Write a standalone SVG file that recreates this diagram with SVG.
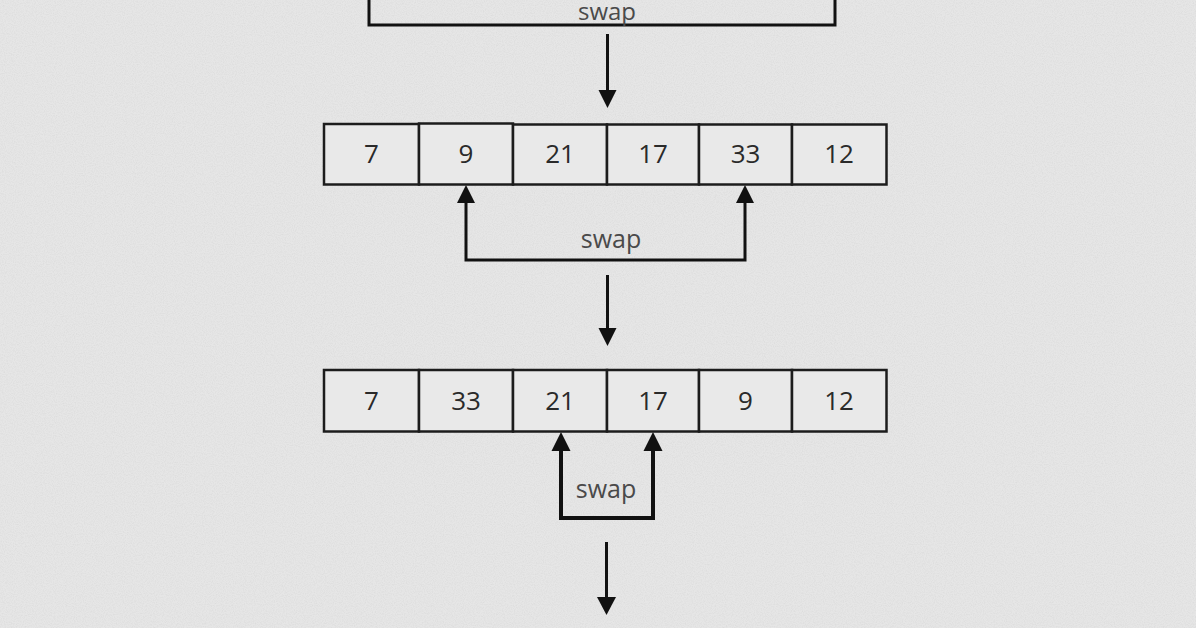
<svg xmlns="http://www.w3.org/2000/svg" width="1196" height="628" viewBox="0 0 1196 628">
  <defs>
    <filter id="grain" x="0" y="0" width="100%" height="100%">
      <feTurbulence type="fractalNoise" baseFrequency="0.9" numOctaves="2" seed="3" result="n"/>
      <feColorMatrix in="n" type="matrix" values="0 0 0 0 0.5  0 0 0 0 0.5  0 0 0 0 0.5  0 0 0 -1.2 0.75" result="g"/>
      <feComposite in="g" in2="SourceGraphic" operator="in"/>
    </filter>
    <style>
      .cell rect { fill: #e9e9e9; stroke: #1c1c1c; stroke-width: 2.5; }
      .cell text { font-family: "Open Sans", "Noto Sans", "Liberation Sans", sans-serif; font-size: 26px; fill: #2a2a2a; text-anchor: middle; }
      .lbl { font-family: "Open Sans", "Noto Sans", "Liberation Sans", sans-serif; font-size: 25px; fill: #4a4a4a; text-anchor: middle; }
      .wire { fill: none; stroke: #111; stroke-width: 3; stroke-linejoin: miter; }
      .head { fill: #111; }
    </style>
  </defs>
  <rect width="1196" height="628" fill="#e6e6e6"/>
  <rect width="1196" height="628" fill="#ffffff" filter="url(#grain)" opacity="0.35"/>

  <!-- connectors -->
  <g id="connectors">
    <!-- top bracket (cut off) -->
    <path class="wire" d="M369,0 L369,25 L835,25 L835,0"/>
    <text class="lbl" x="607" y="20" style="font-size:24px">swap</text>
    <!-- down arrow 1 -->
    <line class="wire" x1="607.5" y1="34" x2="607.5" y2="92"/>
    <path class="head" d="M598.5,90 L616.5,90 L607.5,108 Z"/>

    <!-- swap bracket row 1 -->
    <path class="wire" d="M466,200 L466,260 L745,260 L745,200"/>
    <path class="head" d="M457,203 L475,203 L466,185 Z"/>
    <path class="head" d="M736,203 L754,203 L745,185 Z"/>
    <text class="lbl" x="611" y="248">swap</text>

    <!-- down arrow 2 -->
    <line class="wire" x1="607.5" y1="275" x2="607.5" y2="330"/>
    <path class="head" d="M598.5,328 L616.5,328 L607.5,346 Z"/>

    <!-- swap bracket row 2 -->
    <path class="wire" d="M561,448 L561,518 L653,518 L653,448" style="stroke-width:4"/>
    <path class="head" d="M551.5,451 L570.5,451 L561,432 Z"/>
    <path class="head" d="M643.5,451 L662.5,451 L653,432 Z"/>
    <text class="lbl" x="606" y="498">swap</text>

    <!-- down arrow 3 -->
    <line class="wire" x1="606.5" y1="542" x2="606.5" y2="600"/>
    <path class="head" d="M597,597 L616,597 L606.5,615 Z"/>
  </g>

  <!-- row 1 -->
  <g id="row1">
    <g id="r1c1" class="cell"><rect x="324" y="124" width="95" height="60.5"/><text x="371.5" y="163">7</text></g>
    <g id="r1c2" class="cell"><rect x="419" y="123.5" width="94" height="61"/><text x="466" y="163">9</text></g>
    <g id="r1c3" class="cell"><rect x="513" y="124.5" width="94" height="60"/><text x="560" y="163">21</text></g>
    <g id="r1c4" class="cell"><rect x="607" y="124.5" width="92" height="60"/><text x="653" y="163">17</text></g>
    <g id="r1c5" class="cell"><rect x="699" y="124.5" width="93" height="60"/><text x="745.5" y="163">33</text></g>
    <g id="r1c6" class="cell"><rect x="792" y="124.5" width="94.5" height="60"/><text x="839" y="163">12</text></g>
  </g>

  <!-- row 2 -->
  <g id="row2">
    <g id="r2c1" class="cell"><rect x="324" y="370" width="95" height="61.5"/><text x="371.5" y="410">7</text></g>
    <g id="r2c2" class="cell"><rect x="419" y="370" width="94" height="61.5"/><text x="466" y="410">33</text></g>
    <g id="r2c3" class="cell"><rect x="513" y="370" width="94" height="61.5"/><text x="560" y="410">21</text></g>
    <g id="r2c4" class="cell"><rect x="607" y="370" width="92" height="61.5"/><text x="653" y="410">17</text></g>
    <g id="r2c5" class="cell"><rect x="699" y="370" width="93" height="61.5"/><text x="745.5" y="410">9</text></g>
    <g id="r2c6" class="cell"><rect x="792" y="370" width="94.5" height="61.5"/><text x="839" y="410">12</text></g>
  </g>
</svg>
